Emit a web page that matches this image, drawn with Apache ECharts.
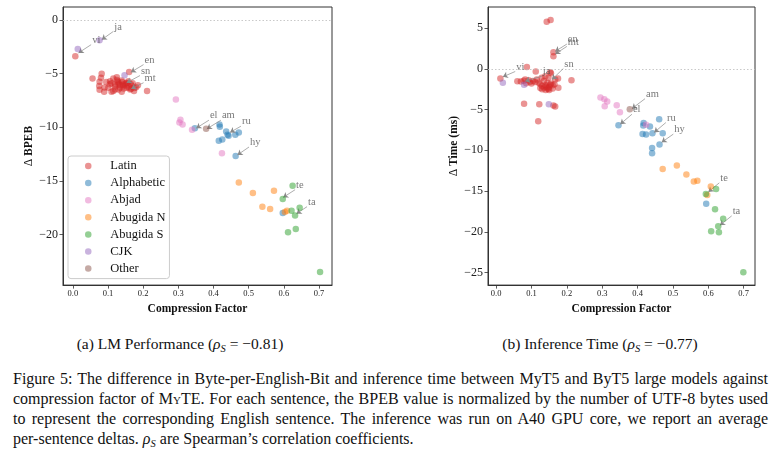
<!DOCTYPE html>
<html>
<head>
<meta charset="utf-8">
<script src="https://cdn.jsdelivr.net/npm/echarts@6/dist/echarts.min.js"></script>
<style>
  body { margin: 0; background: #fff; }
  #wrap { position: relative; width: 771px; height: 452px; font-family: "Liberation Serif", serif; color: #111; }
  #chart { position: absolute; left: 0; top: 0; width: 771px; height: 320px; }
  .sub { position: absolute; top: 334px; width: 360px; text-align: center; font-size: 15.5px; line-height: 20px; }
  .cap { position: absolute; left: 13px; width: 755px; font-size: 16px; line-height: 20px; white-space: nowrap; }
  .just { text-align: justify; text-align-last: justify; white-space: normal; }
  sub { font-size: 10.5px; vertical-align: -3px; line-height: 0; }
  .sc { font-variant: small-caps; }
</style>
</head>
<body>
<div id="wrap">
  <div id="chart"></div>
  <div class="sub" style="left:0px">(a) LM Performance (<i>ρ<sub>S</sub></i> = −0.81)</div>
  <div class="sub" style="left:420px">(b) Inference Time (<i>ρ<sub>S</sub></i> = −0.77)</div>
  <div class="cap just" style="top:369px">Figure 5: The difference in Byte-per-English-Bit and inference time between MyT5 and ByT5 large models against</div>
  <div class="cap just" style="top:389px">compression factor of <span class="sc">MyTE</span>. For each sentence, the BPEB value is normalized by the number of UTF-8 bytes used</div>
  <div class="cap just" style="top:409px">to represent the corresponding English sentence. The inference was run on A40 GPU core, we report an average</div>
  <div class="cap" style="top:429px">per-sentence deltas. <i>ρ<sub>S</sub></i> are Spearman’s correlation coefficients.</div>
</div>
<script>
const groups = ["Latin", "Alphabetic", "Abjad", "Abugida N", "Abugida S", "CJK", "Other"];
const colors = ["#d62728", "#1f77b4", "#e377c2", "#ff7f0e", "#2ca02c", "#9467bd", "#8c564b"];

const xTicks = [0, 0.1, 0.2, 0.3, 0.4, 0.5, 0.6, 0.7];
const bpebTicks = [-20, -15, -10, -5, 0];
const timeTicks = [-25, -20, -15, -10, -5, 0, 5];

// (a) delta BPEB vs compression factor, [x, y]
const bpebLatin = [
  [0.007,-3.40],[0.056,-5.46],[0.082,-5.03],[0.080,-5.40],[0.076,-5.77],[0.075,-6.17],[0.076,-6.51],
  [0.089,-6.69],[0.101,-6.33],[0.106,-5.71],[0.115,-5.46],[0.125,-5.34],[0.120,-6.02],[0.130,-5.86],
  [0.139,-5.65],[0.134,-6.32],[0.144,-6.17],[0.149,-5.95],[0.153,-6.32],[0.158,-5.71],[0.115,-6.64],
  [0.139,-6.70],[0.163,-6.48],[0.168,-6.17],[0.174,-6.64],[0.180,-6.27],[0.211,-6.64],[0.160,-4.85],
  [0.110,-5.90],[0.120,-6.20],[0.125,-5.60],[0.130,-6.00],[0.135,-6.10],[0.140,-5.80],[0.145,-6.40],
  [0.150,-6.10],[0.155,-5.90],[0.160,-6.30],[0.165,-6.00],[0.130,-6.50],[0.120,-6.50],[0.105,-6.00],
  [0.095,-5.80],[0.110,-6.70],[0.170,-5.90],[0.175,-6.35],[0.185,-6.10],[0.090,-6.30],[0.166,-6.42],
  [0.153,-5.86],[0.128,-5.75],[0.142,-6.05]
];
const bpebAlphabetic = [
  [0.347,-10.10],[0.417,-9.75],[0.418,-9.97],[0.436,-10.40],[0.443,-10.80],[0.440,-10.70],
  [0.462,-10.71],[0.472,-10.49],[0.415,-11.27],[0.425,-11.14],[0.463,-12.69],[0.597,-18.00]
];
const bpebAbjad = [[0.293,-7.41],[0.306,-9.32],[0.303,-9.57],[0.312,-9.75],[0.339,-10.25],[0.424,-12.44]];
const bpebAbugidaN = [[0.472,-15.15],[0.512,-16.14],[0.572,-15.93],[0.539,-17.41],[0.561,-17.62],[0.609,-17.80],[0.603,-17.90]];
const bpebAbugidaS = [[0.625,-15.46],[0.597,-16.70],[0.622,-17.80],[0.645,-17.50],[0.632,-18.24],[0.612,-19.80],[0.634,-19.50],[0.703,-23.50]];
const bpebCJK = [[0.014,-2.71],[0.076,-1.91],[0.147,-5.15]];
const bpebOther = [[0.379,-10.15]];
// label, arrow head x, y, text anchor x, y
const bpebNotes = [
  ["ja", 0.082,-1.85, 0.115,-1.08],
  ["vi", 0.016,-3.08, 0.052,-2.31],
  ["en", 0.165,-4.88, 0.201,-4.17],
  ["sn", 0.153,-5.86, 0.191,-5.19],
  ["mt", 0.166,-6.42, 0.201,-5.86],
  ["el", 0.351,-10.09, 0.387,-9.35],
  ["am", 0.381,-10.16, 0.421,-9.35],
  ["ru", 0.447,-10.49, 0.478,-9.91],
  ["hy", 0.468,-12.59, 0.501,-11.85],
  ["te", 0.598,-16.55, 0.632,-15.83],
  ["ta", 0.636,-18.06, 0.666,-17.41]
];

// (b) delta inference time (ms) vs compression factor
const timeLatin = [
  [0.012,-1.18],[0.143,5.80],[0.154,6.01],[0.162,2.03],[0.162,1.54],[0.087,0.24],[0.112,-0.33],
  [0.153,-0.41],[0.155,-0.55],[0.060,-1.51],[0.082,-1.30],[0.092,-1.39],[0.104,-1.50],[0.115,-1.30],
  [0.129,-1.10],[0.139,-0.90],[0.148,-1.10],[0.167,-1.30],[0.175,-1.18],[0.213,-1.39],[0.176,-2.32],
  [0.079,-4.27],[0.122,-4.35],[0.162,-4.50],[0.167,-4.63],[0.119,-6.43],
  [0.120,-1.70],[0.125,-1.90],[0.130,-2.10],[0.135,-2.30],[0.140,-2.00],[0.145,-2.40],[0.150,-2.20],
  [0.155,-1.80],[0.160,-2.00],[0.130,-2.50],[0.140,-2.60],[0.150,-2.60],[0.160,-2.40],[0.110,-1.60],
  [0.100,-1.80],[0.095,-1.60],[0.085,-1.75],[0.145,-1.70],[0.135,-1.50],[0.165,-1.90],[0.125,-2.35],
  [0.142,-2.20],[0.153,-1.95],[0.148,-2.45],[0.078,-1.45],[0.070,-1.55]
];
const timeAlphabetic = [
  [0.346,-6.91],[0.417,-6.63],[0.416,-6.95],[0.435,-7.07],[0.461,-6.18],[0.442,-7.89],[0.414,-8.01],
  [0.424,-8.05],[0.471,-7.89],[0.462,-9.27],[0.441,-9.72],[0.441,-10.37],[0.594,-16.55]
];
const timeAbjad = [[0.295,-3.50],[0.306,-3.74],[0.314,-3.99],[0.307,-4.60],[0.341,-4.48],[0.350,-5.33],[0.424,-6.87]];
const timeAbugidaN = [[0.471,-12.28],[0.511,-11.87],[0.538,-12.97],[0.559,-13.83],[0.569,-13.74],[0.607,-14.43],[0.597,-15.49]];
const timeAbugidaS = [[0.593,-15.37],[0.622,-14.76],[0.619,-17.24],[0.642,-18.41],[0.628,-19.31],[0.608,-19.93],[0.630,-20.05],[0.699,-24.97]];
const timeCJK = [[0.019,-1.71],[0.079,-1.95],[0.149,-4.35]];
const timeOther = [[0.378,-4.96]];
const timeNotes = [
  ["vi", 0.019,-0.98, 0.054,-0.32],
  ["ja", 0.082,-1.51, 0.129,-0.90],
  ["sn", 0.158,-1.30, 0.190,0.04],
  ["en", 0.167,2.15, 0.200,3.05],
  ["mt", 0.167,1.83, 0.200,2.76],
  ["am", 0.384,-4.88, 0.421,-3.66],
  ["el", 0.351,-6.79, 0.384,-5.57],
  ["ru", 0.447,-7.80, 0.480,-6.59],
  ["hy", 0.468,-9.02, 0.501,-8.01],
  ["te", 0.600,-15.12, 0.631,-13.99],
  ["ta", 0.633,-19.20, 0.666,-18.05]
];

const bpebSets = [bpebLatin, bpebAlphabetic, bpebAbjad, bpebAbugidaN, bpebAbugidaS, bpebCJK, bpebOther];
const timeSets = [timeLatin, timeAlphabetic, timeAbjad, timeAbugidaN, timeAbugidaS, timeCJK, timeOther];

const serif = 'Liberation Serif';
const minus = (v) => String(v).replace('-', '\u2212');

const makeX = (gi, min, max) => ({
  gridIndex: gi, type: 'value', min: min, max: max,
  name: 'Compression Factor', nameLocation: 'middle', nameGap: 14,
  nameTextStyle: { fontFamily: serif, fontWeight: 'bold', fontSize: 11.5, color: '#111' },
  axisLine: { show: true, onZero: false, lineStyle: { color: '#333', width: 1 } },
  axisTick: { show: true, length: 3.5, lineStyle: { color: '#333', width: 0.8 }, customValues: xTicks },
  axisLabel: { fontFamily: serif, fontSize: 8.5, color: '#222', margin: 4, customValues: xTicks,
    formatter: (v) => v.toFixed(1) },
  splitLine: { show: false }
});

const makeY = (gi, min, max, ticks, name, gap) => ({
  gridIndex: gi, type: 'value', min: min, max: max,
  name: '{d|\u0394} ' + name, nameLocation: 'middle', nameGap: gap,
  nameTextStyle: { fontFamily: serif, fontWeight: 'bold', fontSize: 11.5, color: '#111',
    rich: { d: { fontFamily: serif, fontWeight: 'normal', fontSize: 11.5, color: '#111' } } },
  axisLine: { show: true, onZero: false, lineStyle: { color: '#333', width: 1 } },
  axisTick: { show: true, length: 3.5, lineStyle: { color: '#333', width: 0.8 }, customValues: ticks },
  axisLabel: { fontFamily: serif, fontSize: 12, color: '#222', margin: 5, customValues: ticks,
    formatter: (v) => minus(v) },
  splitLine: { show: false }
});

const makeSeries = (gi, sets, notes) => {
  const out = sets.map((d, i) => ({
    name: groups[i], type: 'scatter', xAxisIndex: gi, yAxisIndex: gi,
    data: d, symbol: 'circle', symbolSize: 6.5,
    itemStyle: { color: colors[i], opacity: 0.5 },
    z: 3 + i
  }));
  out[0].markLine = {
    silent: true, symbol: ['none', 'none'], label: { show: false },
    lineStyle: { color: '#bbb', type: [1.5, 2], width: 0.8 },
    data: [{ yAxis: 0 }]
  };
  out.push({
    type: 'scatter', xAxisIndex: gi, yAxisIndex: gi, silent: true, z: 20,
    data: notes.map((n) => [n[3], n[4], n[0]]),
    symbolSize: 0,
    label: { show: true, position: [1, 1], align: 'left', verticalAlign: 'bottom',
      formatter: (p) => p.value[2], fontFamily: serif, fontSize: 10.5, color: '#555' },
    markLine: {
      silent: true, symbol: ['none', 'arrow'], symbolSize: 5, label: { show: false },
      lineStyle: { color: '#8a8a8a', width: 0.7, type: 'solid' },
      data: notes.map((n) => [{ coord: [n[3], n[4]] }, { coord: [n[1], n[2]] }])
    }
  });
  return out;
};

const chart = echarts.init(document.getElementById('chart'));
chart.setOption({
  animation: false,
  textStyle: { fontFamily: serif },
  grid: [
    { left: 63, top: 7, width: 269, height: 280, show: true, borderColor: '#333', borderWidth: 1, containLabel: false },
    { left: 488, top: 7, width: 267, height: 280, show: true, borderColor: '#333', borderWidth: 1, containLabel: false }
  ],
  xAxis: [makeX(0, -0.028, 0.737), makeX(1, -0.023, 0.732)],
  yAxis: [
    makeY(0, -24.72, 1.2, bpebTicks, 'BPEB', 20),
    makeY(1, -26.55, 7.6, timeTicks, 'Time (ms)', 27)
  ],
  legend: {
    data: groups, orient: 'vertical', left: 68, top: 156,
    icon: 'circle', itemWidth: 34, itemHeight: 6.5, itemGap: 3.1,
    padding: [3, 4, 3, 17],
    backgroundColor: '#fff', borderColor: '#ccc', borderWidth: 1, borderRadius: 3,
    textStyle: { fontFamily: serif, fontSize: 12.5, color: '#111', lineHeight: 14 },
    selectedMode: false
  },
  series: makeSeries(0, bpebSets, bpebNotes).concat(makeSeries(1, timeSets, timeNotes))
});
</script>
</body>
</html>
